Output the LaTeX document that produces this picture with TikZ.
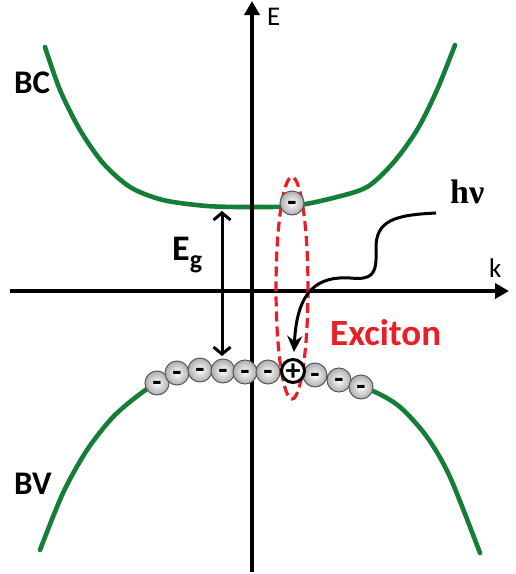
\documentclass[tikz,border=0pt]{standalone}
\usepackage{fontspec}
\setmainfont{Carlito}
\newfontfamily\hvfont{Liberation Serif}
\usetikzlibrary{arrows.meta}
\definecolor{bandgreen}{RGB}{20,125,55}
\definecolor{excred}{RGB}{235,30,40}
\begin{document}
\begin{tikzpicture}[x=1pt,y=-1pt,
  axisline/.style={line width=3.6pt,-{Triangle[width=15pt,length=14pt]}},
  band/.style={bandgreen,line width=4.6pt,line cap=round},
  elec/.style={circle,minimum size=24pt,inner sep=0pt,draw=black!65,line width=1pt,inner color=white,outer color=black!32},
  hole/.style={circle,minimum size=23pt,inner sep=0pt,draw=black,line width=3pt,fill=white},
  minus/.style={inner sep=0pt,font=\fontsize{30}{30}\selectfont\bfseries},
  plus/.style={inner sep=0pt,font=\fontsize{30}{30}\selectfont\bfseries},
  biglabel/.style={inner sep=0pt,anchor=base west,font=\fontsize{33}{33}\selectfont\bfseries},
  axlabel/.style={inner sep=0pt,anchor=base west,font=\fontsize{27}{27}\selectfont},
]
\useasboundingbox[fill=white] (0,0) rectangle (515,574);

% bands
\draw[band] plot[smooth,tension=0.5] coordinates {(45,47) (60,90) (80,130) (103,163) (130,187) (163,200) (207,206) (250,207) (293,206) (333,198) (367,187) (393,163) (417,130) (437,90) (455,45)};
\draw[band] plot[smooth,tension=0.5] coordinates {(40,550) (63,493) (87,450) (113,417) (140,394) (160,382) (200,371) (250,369) (293,371) (339,380) (373,391) (400,407) (427,437) (450,477) (480,553)};

% axes
\coordinate (xs) at (10,291);
\coordinate (xe) at (509,291);
\coordinate (ys) at (252,572);
\coordinate (ye) at (252,1);
\draw[axisline] (xs) -- (xe);
\draw[axisline] (ys) -- (ye);
\node[axlabel] (Elab) at (267,25) {E};
\node[axlabel] (klab) at (489,277) {k};

% band labels
\node[biglabel] (bc) at (14,93) {BC};
\node[biglabel] (bv) at (14,494) {BV};

% exciton ellipse
\draw[excred,line width=3.2pt,dash pattern=on 10pt off 5pt] (292,288) ellipse [x radius=16, y radius=111];
\node[biglabel,excred,font=\fontsize{37}{37}\selectfont\bfseries] (exc) at (330,345) {Exciton};

% band gap arrow
\coordinate (egtop) at (222,211);
\coordinate (egbot) at (222,356);
\draw[line width=3pt,{Straight Barb[length=7pt,width=17pt]}-{Straight Barb[length=7pt,width=17pt]}] (egtop) -- (egbot);
\node[inner sep=0pt,anchor=base west] (eg) at (172,260) {\fontsize{36}{36}\selectfont\bfseries E\raisebox{-8pt}{\fontsize{26}{26}\selectfont g}};

% photon
\node[inner sep=0pt,anchor=base west] (hv) at (450,203) {\hvfont\fontsize{34}{34}\selectfont\bfseries hν};
\coordinate (hvs) at (436,213);
\coordinate (hve) at (294,352);
\draw[line width=3pt,-{Stealth[length=16pt,width=15pt]}] (hvs) .. controls (395,215) and (375,220) .. (376,250) .. controls (377,275) and (372,280) .. (350,278) .. controls (318,276) and (297,290) .. (hve);

% electrons
\foreach \n/\p in {c1/{(292,203)}, v1/{(157,383)}, v2/{(177,373)}, v3/{(200,370)}, v4/{(223,371)}, v5/{(245,372)}, v6/{(268,372)}, v8/{(315,375)}, v9/{(339,380)}, v10/{(361,387)}} {
  \node[elec] (\n) at \p {};
  \node[minus,yshift=-3pt] at (\n.center) {-};
}
\node[hole] (h) at (293,371) {};
\node[plus,yshift=-1pt] at (h.center) {+};
\end{tikzpicture}
\end{document}
